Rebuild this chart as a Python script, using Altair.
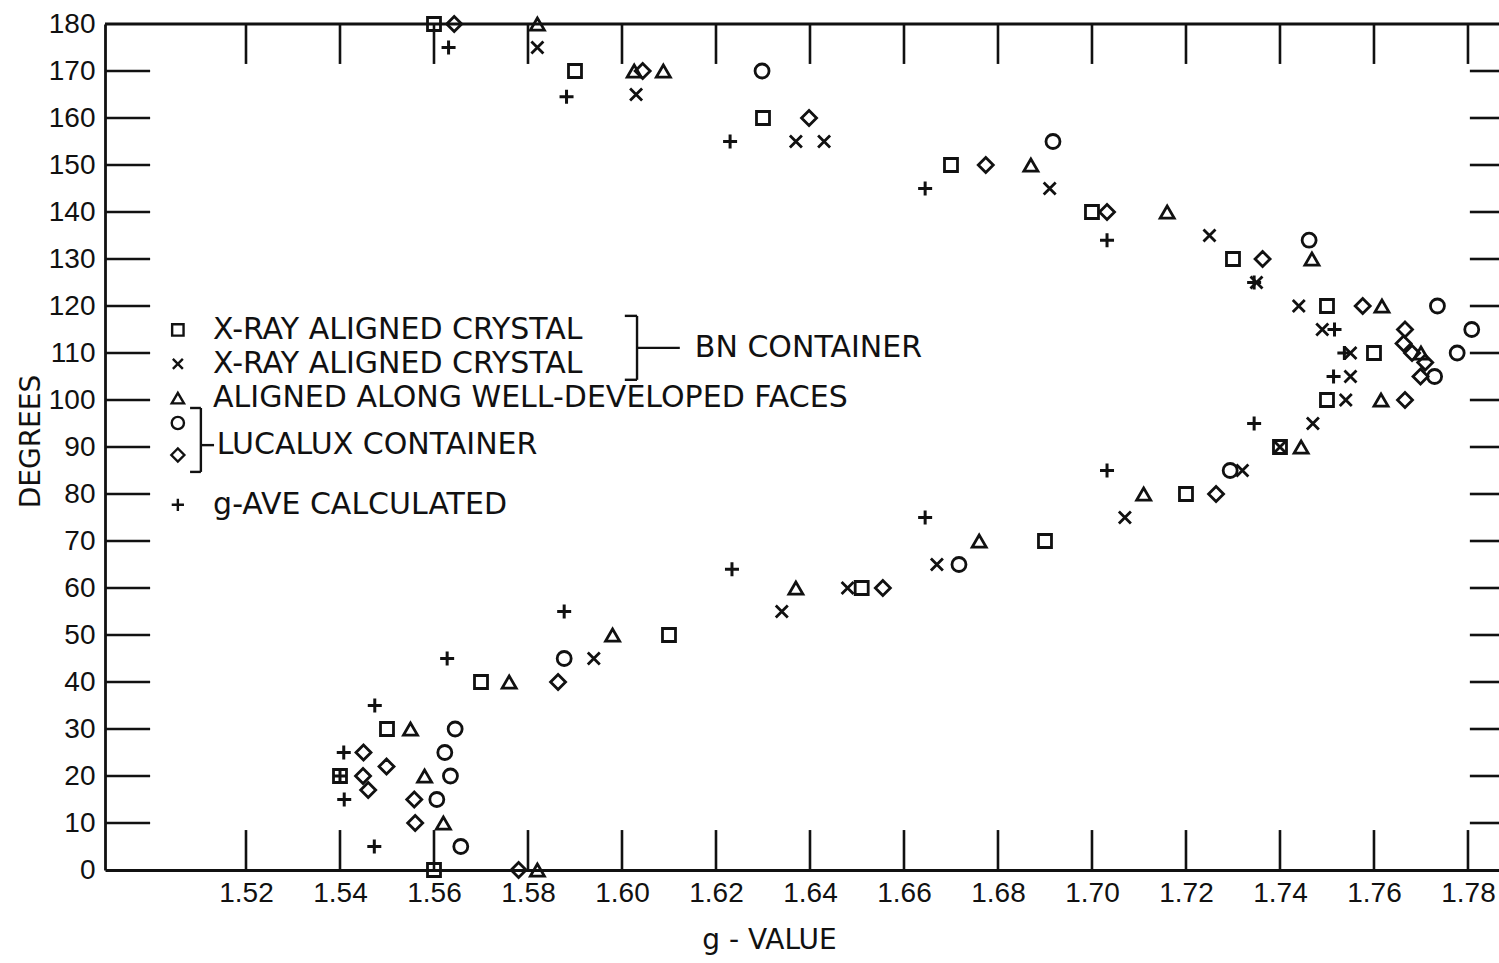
import altair as alt
import pandas as pd

# ---- measurements: g-value and angle (degrees) for each sample group ----
sq_g = [1.560, 1.540, 1.550, 1.570, 1.610, 1.651, 1.690, 1.720, 1.740, 1.750,
        1.760, 1.750, 1.730, 1.700, 1.670, 1.630, 1.590, 1.560]
sq_deg = [0, 20, 30, 40, 50, 60, 70, 80, 90, 100, 110, 120, 130, 140, 150, 160, 170, 180]

x_g = [1.594, 1.634, 1.648, 1.667, 1.707, 1.732, 1.740, 1.747, 1.754, 1.755, 1.755,
       1.749, 1.744, 1.735, 1.725, 1.691, 1.637, 1.643, 1.603, 1.582]
x_deg = [45, 55, 60, 65, 75, 85, 90, 95, 100, 105, 110, 115, 120, 125, 135, 145,
         155, 155, 165, 175]

tri_g = [1.582, 1.562, 1.558, 1.555, 1.576, 1.598, 1.637, 1.676, 1.711, 1.7445,
         1.7615, 1.770, 1.7617, 1.7468, 1.716, 1.687, 1.6026, 1.6088, 1.582]
tri_deg = [0, 10, 20, 30, 40, 50, 60, 70, 80, 90, 100, 110, 120, 130, 140, 150,
           170, 170, 180]

circ_g = [1.5657, 1.5606, 1.5635, 1.5623, 1.5645, 1.5877, 1.6717, 1.7294, 1.7729,
          1.7777, 1.7808, 1.7735, 1.7462, 1.6917, 1.6298]
circ_deg = [5, 15, 20, 25, 30, 45, 65, 85, 105, 110, 115, 120, 134, 155, 170]

dia_g = [1.578, 1.556, 1.5558, 1.546, 1.5449, 1.5499, 1.545, 1.5864, 1.6555, 1.7264,
         1.7666, 1.7699, 1.7709, 1.7681, 1.7663, 1.7666, 1.7576, 1.7363, 1.7032,
         1.6774, 1.6398, 1.6044, 1.5643]
dia_deg = [0, 10, 15, 17, 20, 22, 25, 40, 60, 80, 100, 105, 108, 110, 112, 115,
           120, 130, 140, 150, 160, 170, 180]

plus_g = [1.5473, 1.5409, 1.540, 1.5408, 1.5474, 1.5628, 1.5877, 1.6234, 1.6645,
          1.7032, 1.7345, 1.7514, 1.7537, 1.7516, 1.7345, 1.7032, 1.6645, 1.623,
          1.5882, 1.5631]
plus_deg = [5, 15, 20, 25, 35, 45, 55, 64, 75, 85, 95, 105, 110, 115, 125, 134,
            145, 155, 164.5, 175]

# axis tick values
g_ticks = [1.52, 1.54, 1.56, 1.58, 1.60, 1.62, 1.64, 1.66, 1.68, 1.70, 1.72,
           1.74, 1.76, 1.78]
deg_ticks = [0, 10, 20, 30, 40, 50, 60, 70, 80, 90, 100, 110, 120, 130, 140,
             150, 160, 170, 180]

# legend entries
legend_labels = ["X-RAY ALIGNED CRYSTAL", "X-RAY ALIGNED CRYSTAL",
                 "ALIGNED ALONG WELL-DEVELOPED FACES", "LUCALUX CONTAINER",
                 "g-AVE CALCULATED", "BN CONTAINER"]

# ---- layout ----
G_MIN, G_MAX = 1.49, 1.7866
D_MIN, D_MAX = 0, 180
W, H = 1394, 846
INK = "#111111"
TXT_FONT = "DejaVu Sans"

xs = alt.Scale(domain=[G_MIN, G_MAX], nice=False, zero=False)
ys = alt.Scale(domain=[D_MIN, D_MAX], nice=False, zero=False)

x_axis = alt.Axis(
    values=g_ticks, format=".2f", title="g - VALUE", ticks=False, tickSize=0,
    grid=False, domainColor=INK, domainWidth=2.8, labelPadding=9,
    labelFont="Liberation Sans", labelFontSize=28, labelColor=INK,
    labelFlush=False, labelOverlap=False,
    titleFont=TXT_FONT, titleFontSize=28, titleFontWeight="normal",
    titleColor=INK, titleX=664, titleY=70, titleBaseline="middle",
    titleAlign="center")
y_axis = alt.Axis(
    values=deg_ticks, format="d", title="DEGREES", ticks=False, tickSize=0,
    grid=False, domainColor=INK, domainWidth=2.8, labelPadding=10,
    labelFont="Liberation Sans", labelFontSize=28, labelColor=INK,
    labelFlush=False, labelOverlap=False,
    titleFont=TXT_FONT, titleFontSize=28, titleFontWeight="normal",
    titleColor=INK, titleX=-74, titleY=417, titleAngle=270,
    titleBaseline="middle", titleAlign="center")


def X(field):
    return alt.X(field, scale=xs, axis=x_axis)


def Y(field):
    return alt.Y(field, scale=ys, axis=y_axis)


X_PATH = "M-1,-1L1,1M-1,1L1,-1"
PLUS_PATH = "M-1,0L1,0M0,-1L0,1"


def pts(gs, ds):
    return pd.DataFrame({"g": gs, "deg": ds})


def symbols(df, shape, size, sw=2.8):
    return alt.Chart(df).mark_point(
        shape=shape, size=size, filled=False, color=INK, strokeWidth=sw, opacity=1
    ).encode(x=X("g:Q"), y=Y("deg:Q"))


# top frame line
top_line = alt.Chart(pd.DataFrame({"g": [G_MIN], "g2": [G_MAX], "deg": [D_MAX]})).mark_rule(
    color=INK, strokeWidth=2.8).encode(x=X("g:Q"), x2="g2:Q", y=Y("deg:Q"))

# inward tick marks on all four sides
TICK_DEG = 8.5
TICK_G_LEFT = 0.0096
TICK_G_RIGHT = 0.0062
inner = [d for d in deg_ticks if 0 < d < 180]
bt = pd.DataFrame({"g": g_ticks, "d1": [D_MIN] * len(g_ticks), "d2": [TICK_DEG] * len(g_ticks)})
tt = pd.DataFrame({"g": g_ticks, "d1": [D_MAX] * len(g_ticks), "d2": [D_MAX - TICK_DEG] * len(g_ticks)})
lt = pd.DataFrame({"deg": inner, "g1": [G_MIN] * len(inner), "g2": [G_MIN + TICK_G_LEFT] * len(inner)})
rt = pd.DataFrame({"deg": inner, "g1": [G_MAX - TICK_G_RIGHT] * len(inner), "g2": [G_MAX] * len(inner)})

vticks = alt.Chart(pd.concat([bt, tt])).mark_rule(color=INK, strokeWidth=2.6).encode(
    x=X("g:Q"), y=Y("d1:Q"), y2="d2:Q")
hticks = alt.Chart(pd.concat([lt, rt])).mark_rule(color=INK, strokeWidth=2.6).encode(
    y=Y("deg:Q"), x=X("g1:Q"), x2="g2:Q")

# legend (placed in data coordinates)
LG_SYM = 1.5055
LG_TXT = 1.5130
leg_sym = [
    (pts([LG_SYM], [114.9]), "square", 130),
    (pts([LG_SYM], [107.7]), X_PATH, 100),
    (pts([LG_SYM], [100.4]), "triangle-up", 150),
    (pts([LG_SYM], [95.1]), "circle", 150),
    (pts([LG_SYM], [88.3]), "diamond", 170),
    (pts([LG_SYM], [77.7]), PLUS_PATH, 150),
]
leg_text = pd.DataFrame({
    "g": [LG_TXT, LG_TXT, LG_TXT, 1.5138, LG_TXT, 1.6155],
    "deg": [114.9, 107.7, 100.4, 90.4, 77.7, 111.1],
    "label": legend_labels,
})
texts = alt.Chart(leg_text).mark_text(
    align="left", baseline="middle", font=TXT_FONT, fontSize=30, color=INK
).encode(x=X("g:Q"), y=Y("deg:Q"), text="label:N")

# brackets grouping the legend entries
br = pd.DataFrame({
    "g1": [1.6032, 1.6006, 1.6006, 1.6032, 1.5104, 1.5081, 1.5081, 1.5104],
    "g2": [1.6032, 1.6032, 1.6032, 1.6123, 1.5104, 1.5104, 1.5104, 1.5132],
    "d1": [117.9, 117.9, 104.3, 111.1, 98.3, 98.3, 84.7, 90.4],
    "d2": [104.3, 117.9, 104.3, 111.1, 84.7, 98.3, 84.7, 90.4],
})
brackets = alt.Chart(br).mark_rule(color=INK, strokeWidth=2.4).encode(
    x=X("g1:Q"), x2="g2:Q", y=Y("d1:Q"), y2="d2:Q")

layers = [
    top_line, vticks, hticks, brackets, texts,
    symbols(pts(sq_g, sq_deg), "square", 169),
    symbols(pts(x_g, x_deg), X_PATH, 144),
    symbols(pts(tri_g, tri_deg), "triangle-up", 196),
    symbols(pts(circ_g, circ_deg), "circle", 196),
    symbols(pts(dia_g, dia_deg), "diamond", 225),
    symbols(pts(plus_g, plus_deg), PLUS_PATH, 196, sw=3.0),
]
layers += [symbols(d, s, z, sw=2.4) for d, s, z in leg_sym]

chart = alt.layer(*layers).properties(
    width=W, height=H,
    autosize=alt.AutoSizeParams(type="none"),
    padding={"left": 105, "top": 24, "right": 0, "bottom": 88},
    background="white",
).configure_view(strokeWidth=0)

chart.save("out.html", embed_options={"renderer": "svg", "actions": False})
